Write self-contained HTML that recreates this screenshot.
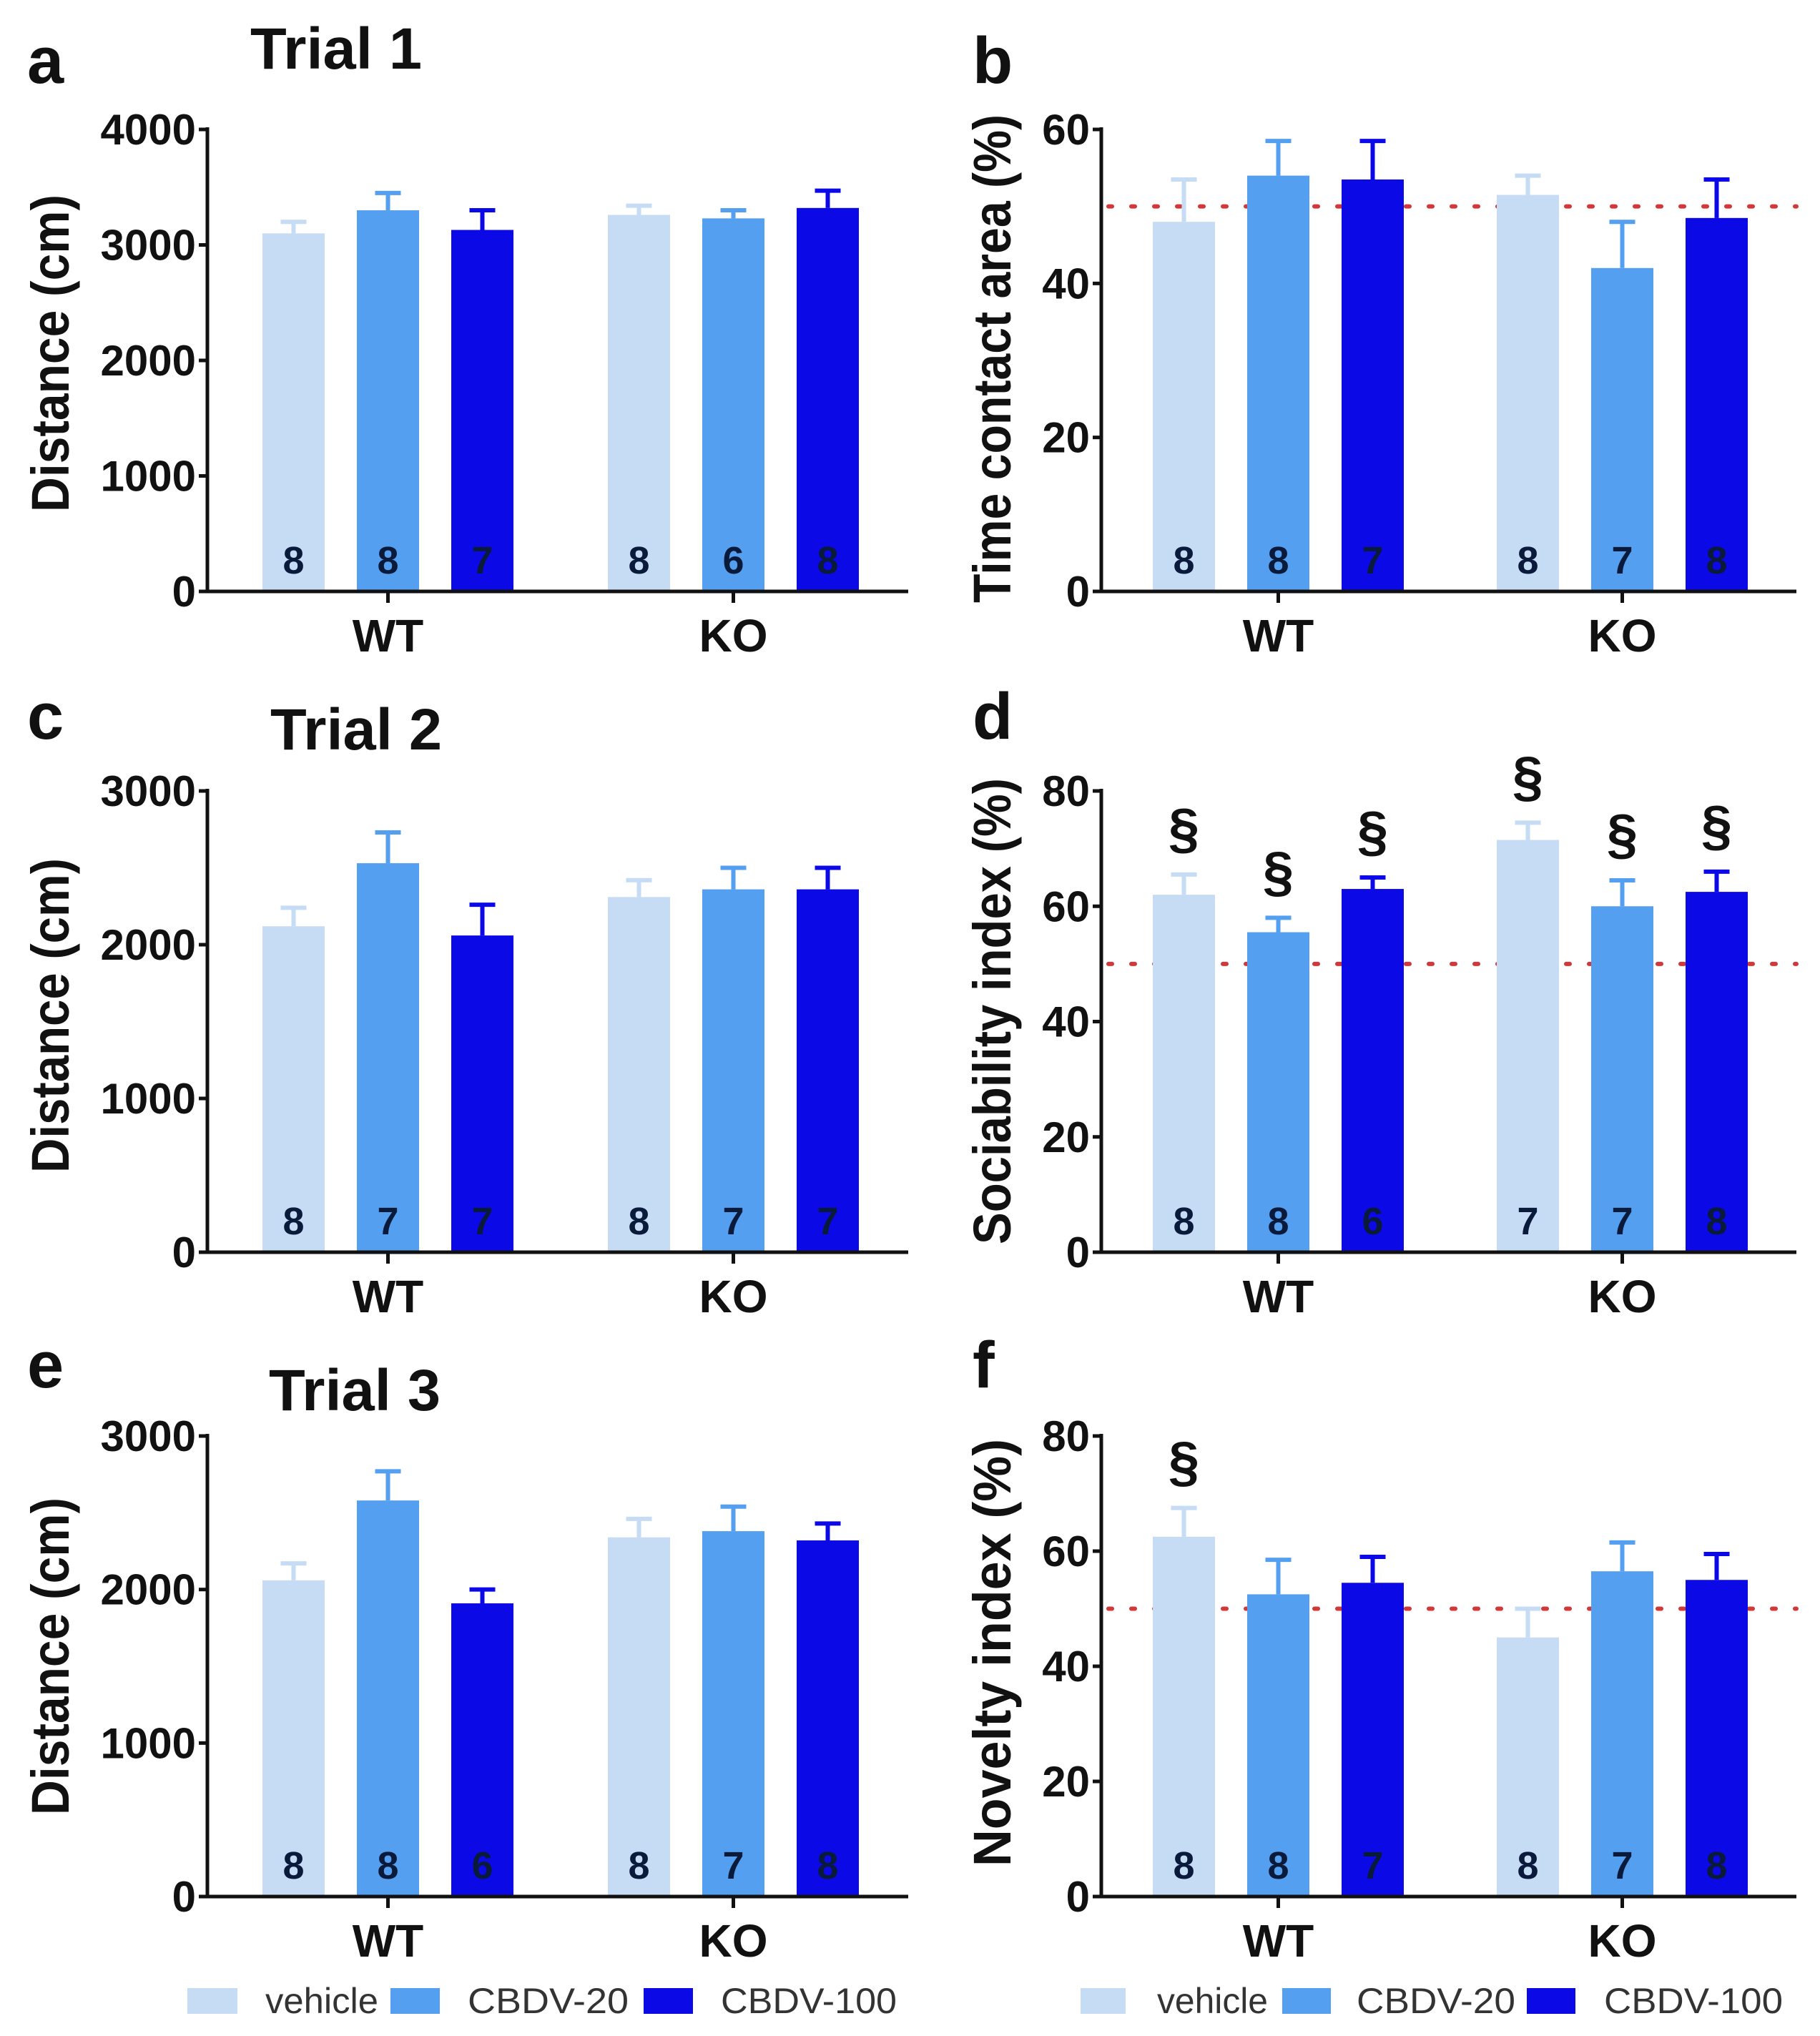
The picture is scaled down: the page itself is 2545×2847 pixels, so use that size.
<!DOCTYPE html>
<html><head><meta charset="utf-8">
<style>
html,body{margin:0;padding:0;background:#fff;}
svg{display:block;}
text{font-family:"Liberation Sans",sans-serif;}
</style></head>
<body>
<svg id="fig" width="2545" height="2847" viewBox="0 0 2545 2847" xmlns="http://www.w3.org/2000/svg"></svg>
<script>
// ---- data ----
const groups = ["WT", "KO"];
const treatments = ["vehicle", "CBDV-20", "CBDV-100"];
const colors = ["#c6dbf4", "#559ff0", "#0b0ae6"];

const aMeans = [3100, 3300, 3130, 3260, 3230, 3320];
const aErr   = [100, 150, 170, 80, 70, 150];
const aN     = ["8","8","7","8","6","8"];
const aTicks = [0, 1000, 2000, 3000, 4000];

const bMeans = [48, 54, 53.5, 51.5, 42, 48.5];
const bErr   = [5.5, 4.5, 5, 2.5, 6, 5];
const bN     = ["8","8","7","8","7","8"];
const bTicks = [0, 20, 40, 60];

const cMeans = [2120, 2530, 2060, 2310, 2360, 2360];
const cErr   = [120, 200, 200, 110, 140, 140];
const cN     = ["8","7","7","8","7","7"];
const cTicks = [0, 1000, 2000, 3000];

const dMeans = [62, 55.5, 63, 71.5, 60, 62.5];
const dErr   = [3.5, 2.5, 2, 3, 4.5, 3.5];
const dN     = ["8","8","6","7","7","8"];
const dTicks = [0, 20, 40, 60, 80];
const dSig   = [1, 1, 1, 1, 1, 1];

const eMeans = [2060, 2580, 1910, 2340, 2380, 2320];
const eErr   = [110, 190, 90, 120, 160, 110];
const eN     = ["8","8","6","8","7","8"];
const eTicks = [0, 1000, 2000, 3000];

const fMeans = [62.5, 52.5, 54.5, 45, 56.5, 55];
const fErr   = [5, 6, 4.5, 5, 5, 4.5];
const fN     = ["8","8","7","8","7","8"];
const fTicks = [0, 20, 40, 60, 80];
const fSig   = [1, 0, 0, 0, 0, 0];

const refLine = 50;

// ---- drawing ----
const NS = "http://www.w3.org/2000/svg";
const svg = document.getElementById("fig");
function mk(tag, attrs, parent, txt) {
  const e = document.createElementNS(NS, tag);
  for (const k in attrs) e.setAttribute(k, attrs[k]);
  if (txt !== undefined) e.textContent = txt;
  (parent || svg).appendChild(e);
  return e;
}

function panel(cfg) {
  const g = mk("g", {});
  
  
  const maxV = cfg.ticks[cfg.ticks.length - 1];
  const y = v => cfg.y0 - (v / maxV) * (cfg.y0 - cfg.yTop);
  const barX = i => cfg.x0 + cfg.firstOff + (i % 3) * 132 + (i >= 3 ? cfg.grpOff : 0);
  const bw = 87;
  if (cfg.ref !== undefined) {
    const l = mk("line", {x1: cfg.x0 + 10, x2: cfg.xEnd, y1: y(cfg.ref), y2: y(cfg.ref), stroke: "#d0383a", "stroke-width": 6, "stroke-dasharray": "5 27", "stroke-linecap": "round"}, g);
    
    
  }
  cfg.means.forEach((m, i) => {
    const c = colors[i % 3];
    const x = barX(i);
    const eb = mk("g", {}, g);
    
    
    mk("line", {x1: x + bw/2, x2: x + bw/2, y1: y(m), y2: y(m + cfg.err[i]), stroke: c, "stroke-width": 6}, eb);
    mk("line", {x1: x + bw/2 - 18, x2: x + bw/2 + 18, y1: y(m + cfg.err[i]), y2: y(m + cfg.err[i]), stroke: c, "stroke-width": 6}, eb);
    const r = mk("rect", {x: x, y: y(m), width: bw, height: cfg.y0 - y(m), fill: c}, g);
    
    
    const t = mk("text", {x: x + bw/2, y: cfg.y0 - 25, "font-size": 54, "font-weight": "bold", "text-anchor": "middle", fill: "#0a1a3a"}, g, cfg.n[i]);
    
    
    if (cfg.sig && cfg.sig[i]) {
      const s = mk("text", {x: x + bw/2, y: y(m + cfg.err[i]) - 38, "font-size": 78, "font-weight": "bold", "text-anchor": "middle", fill: "#111"}, g, "§");
      
      
    }
  });
  const ya = mk("line", {x1: cfg.x0, x2: cfg.x0, y1: cfg.yTop - 3, y2: cfg.y0 + 2, stroke: "#111", "stroke-width": 5}, g);
  
  
  const xa = mk("line", {x1: cfg.x0 - 12, x2: cfg.xEnd, y1: cfg.y0, y2: cfg.y0, stroke: "#111", "stroke-width": 5}, g);
  
  
  cfg.ticks.forEach(v => {
    mk("line", {x1: cfg.x0 - 12, x2: cfg.x0, y1: y(v), y2: y(v), stroke: "#111", "stroke-width": 5}, g);
    const t = mk("text", {x: cfg.x0 - 16, y: y(v) + 21, "font-size": 60, "font-weight": "bold", "text-anchor": "end", fill: "#111"}, g, String(v));
    
    
  });
  groups.forEach((gname, gi) => {
    const cx = barX(gi * 3 + 1) + bw/2;
    mk("line", {x1: cx, x2: cx, y1: cfg.y0, y2: cfg.y0 + 16, stroke: "#111", "stroke-width": 5}, g);
    const t = mk("text", {x: cx, y: cfg.y0 + 84, "font-size": 64, "font-weight": "bold", "text-anchor": "middle", fill: "#111"}, g, gname);
    
    
  });
  const tcy = (cfg.titleA + cfg.titleB) / 2;
  const yt = mk("text", {x: 0, y: 0, transform: `translate(${cfg.titleX},${tcy}) rotate(-90)`, "font-size": 74, "font-weight": "bold", "text-anchor": "middle", textLength: cfg.titleB - cfg.titleA, lengthAdjust: "spacingAndGlyphs", fill: "#111"}, g, cfg.ytitle);
  
  
  const lt = mk("text", {x: cfg.letterX, y: cfg.letterY, "font-size": 92, "font-weight": "bold", fill: "#111"}, g, cfg.letter);
  
  
  if (cfg.trial) {
    const tt = mk("text", {x: cfg.trialX, y: cfg.trialY, "font-size": 82, "font-weight": "bold", fill: "#111", textLength: 240, lengthAdjust: "spacingAndGlyphs"}, g, cfg.trial);
    
    
  }
}

const L = {x0: 290, xEnd: 1270, firstOff: 77, grpOff: 483, titleX: 96, letterX: 38};
const R = {x0: 1540, xEnd: 2512, firstOff: 72, grpOff: 481, titleX: 1413, letterX: 1360};
const rows = [{yTop: 181, y0: 827, letterY: 116}, {yTop: 1106, y0: 1751, letterY: 1033}, {yTop: 2008, y0: 2652, letterY: 1940}];

panel(Object.assign({}, L, rows[0], {name: "panel-a-trial1-distance", means: aMeans, err: aErr, n: aN, ticks: aTicks, ytitle: "Distance (cm)", titleA: 272, titleB: 716, letter: "a", trial: "Trial 1", trialX: 350, trialY: 96}));
panel(Object.assign({}, R, rows[0], {name: "panel-b-time-contact", means: bMeans, err: bErr, n: bN, ticks: bTicks, ytitle: "Time contact area (%)", titleA: 160, titleB: 843, letter: "b", ref: refLine}));
panel(Object.assign({}, L, rows[1], {name: "panel-c-trial2-distance", means: cMeans, err: cErr, n: cN, ticks: cTicks, ytitle: "Distance (cm)", titleA: 1200, titleB: 1640, letter: "c", trial: "Trial 2", trialX: 378, trialY: 1048}));
panel(Object.assign({}, R, rows[1], {name: "panel-d-sociability", means: dMeans, err: dErr, n: dN, ticks: dTicks, ytitle: "Sociability index (%)", titleA: 1088, titleB: 1740, letter: "d", ref: refLine, sig: dSig}));
panel(Object.assign({}, L, rows[2], {name: "panel-e-trial3-distance", means: eMeans, err: eErr, n: eN, ticks: eTicks, ytitle: "Distance (cm)", titleA: 2094, titleB: 2538, letter: "e", trial: "Trial 3", trialX: 376, trialY: 1972}));
panel(Object.assign({}, R, rows[2], {name: "panel-f-novelty", means: fMeans, err: fErr, n: fN, ticks: fTicks, ytitle: "Novelty  index (%)", titleA: 2012, titleB: 2610, letter: "f", ref: refLine, sig: fSig}));

function legend(name, items) {
  const g = mk("g", {});
  
  
  items.forEach((it, i) => {
    const e = mk("g", {}, g);
    
    
    mk("rect", {x: it[0], y: 2780, width: it[1] - it[0], height: 36, fill: colors[i]}, e);
    mk("text", {x: it[2], y: 2815, "font-size": 50, fill: "#333", textLength: it[3] - it[2], lengthAdjust: "spacingAndGlyphs"}, e, treatments[i]);
  });
}
legend("legend-left", [[262, 332, 371, 529], [546, 615, 654, 879], [900, 969, 1008, 1254]]);
legend("legend-right", [[1511, 1574, 1618, 1773], [1793, 1861, 1897, 2119], [2135, 2203, 2243, 2493]]);
</script>
</body></html>
